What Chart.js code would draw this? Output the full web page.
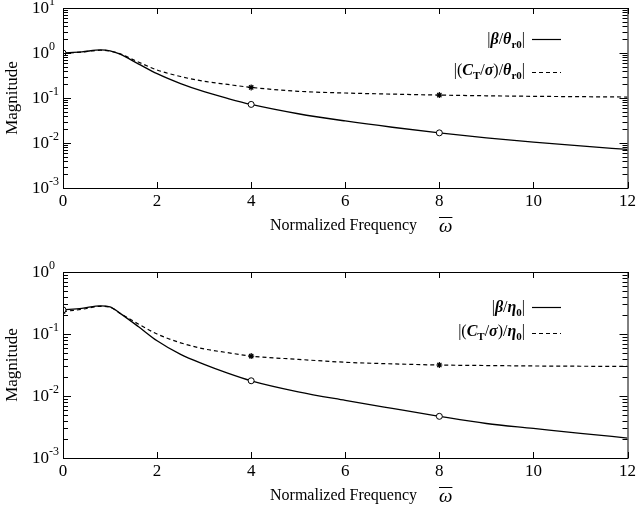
<!DOCTYPE html>
<html>
<head>
<meta charset="utf-8">
<script src="https://cdn.jsdelivr.net/npm/chart.js@4.4.1/dist/chart.umd.min.js"></script>
<style>
  body { margin: 0; background: #fff; }
  canvas { position: absolute; left: 0; }
</style>
</head>
<body>
<canvas id="chartTop" width="639" height="256" style="top:0"></canvas>
<canvas id="chartBottom" width="639" height="255" style="top:256px"></canvas>
<script>
// normalized frequency samples (x axis)
const freq = [0, 0.4, 0.8, 1.0, 1.2, 1.6, 2, 2.5, 3, 3.5, 4, 5, 6, 7, 8, 9, 10, 11, 12];

// top panel: |beta/theta_r0| and |(C_T/sigma)/theta_r0|
const betaTheta = [1.0, 1.06, 1.17, 1.12, 0.955, 0.575, 0.347, 0.209, 0.138, 0.098, 0.072, 0.0447, 0.0309, 0.0224, 0.0168, 0.013, 0.0105, 0.0086, 0.0072];
const ctTheta = [0.98, 1.05, 1.15, 1.1, 0.97, 0.63, 0.42, 0.3, 0.235, 0.2, 0.172, 0.141, 0.129, 0.122, 0.116, 0.112, 0.109, 0.107, 0.105];

// bottom panel: |beta/eta_0| and |(C_T/sigma)/eta_0|
const betaEta = [0.245, 0.26, 0.285, 0.275, 0.219, 0.132, 0.0776, 0.0468, 0.0324, 0.0234, 0.0176, 0.0117, 0.0085, 0.0063, 0.0047, 0.0036, 0.003, 0.0025, 0.0021];
const ctEta = [0.23, 0.25, 0.28, 0.27, 0.219, 0.145, 0.1, 0.072, 0.0575, 0.05, 0.044, 0.039, 0.035, 0.033, 0.0316, 0.031, 0.0305, 0.0302, 0.03];

// frequencies that carry a marker
const markFreqs = [0, 4, 8];

// legend labels, split into styled pieces (i = italic, b = bold, sub = subscript)
const legendTop = [
  [{ t: '|' }, { t: 'β', i: 1, b: 1 }, { t: '/' }, { t: 'θ', i: 1, b: 1 }, { t: 'r0', b: 1, sub: 1 }, { t: '|' }],
  [{ t: '|(' }, { t: 'C', i: 1, b: 1 }, { t: 'T', b: 1, sub: 1 }, { t: '/' }, { t: 'σ', i: 1, b: 1 }, { t: ')/' }, { t: 'θ', i: 1, b: 1 }, { t: 'r0', b: 1, sub: 1 }, { t: '|' }]
];
const legendBottom = [
  [{ t: '|' }, { t: 'β', i: 1, b: 1 }, { t: '/' }, { t: 'η', i: 1, b: 1 }, { t: '0', b: 1, sub: 1 }, { t: '|' }],
  [{ t: '|(' }, { t: 'C', i: 1, b: 1 }, { t: 'T', b: 1, sub: 1 }, { t: '/' }, { t: 'σ', i: 1, b: 1 }, { t: ')/' }, { t: 'η', i: 1, b: 1 }, { t: '0', b: 1, sub: 1 }, { t: '|' }]
];

const SERIF = '"Liberation Serif", "Times New Roman", serif';

function drawRich(ctx, parts, xEnd, yMid, size) {
  const fontOf = p => (p.i ? 'italic ' : '') + (p.b ? 'bold ' : '') + (p.sub ? Math.round(size * 0.7) : size) + 'px ' + SERIF;
  const widths = parts.map(p => { ctx.font = fontOf(p); return ctx.measureText(p.t).width; });
  let x = xEnd - widths.reduce((a, b) => a + b, 0);
  ctx.textAlign = 'left';
  ctx.textBaseline = 'alphabetic';
  parts.forEach((p, k) => {
    ctx.font = fontOf(p);
    ctx.fillText(p.t, x, yMid + size * 0.33 + (p.sub ? size * 0.22 : 0));
    x += widths[k];
  });
}

// frame, inward ticks, decade labels, axis titles and legend
const paperPlugin = {
  id: 'paper',
  afterDraw(chart, args, opts) {
    const { ctx, chartArea: a, scales: { x, y } } = chart;
    ctx.save();
    ctx.strokeStyle = '#000';
    ctx.fillStyle = '#000';
    ctx.lineWidth = 1;
    ctx.strokeRect(a.left + 0.5, a.top + 0.5, a.right - a.left, a.bottom - a.top);

    // log ticks on left and right edges
    const minExp = Math.round(Math.log10(y.min));
    const maxExp = Math.round(Math.log10(y.max));
    ctx.beginPath();
    for (let e = minExp; e <= maxExp; e++) {
      for (let d = 1; d <= 9; d++) {
        if (e === maxExp && d > 1) break;
        const py = Math.round(y.getPixelForValue(d * Math.pow(10, e))) + 0.5;
        const len = d === 1 ? 8 : 5;
        ctx.moveTo(a.left, py); ctx.lineTo(a.left + len, py);
        ctx.moveTo(a.right, py); ctx.lineTo(a.right - len, py);
      }
    }
    // x ticks on top and bottom edges
    x.ticks.forEach(t => {
      const px = Math.round(x.getPixelForValue(t.value)) + 0.5;
      ctx.moveTo(px, a.top); ctx.lineTo(px, a.top + 6);
      ctx.moveTo(px, a.bottom); ctx.lineTo(px, a.bottom - 6);
    });
    ctx.stroke();

    // decade labels 10^n
    ctx.textAlign = 'left';
    ctx.textBaseline = 'middle';
    for (let e = minExp; e <= maxExp; e++) {
      const py = y.getPixelForValue(Math.pow(10, e));
      ctx.font = '17px ' + SERIF;
      ctx.fillText('10', 32, py + 1);
      const w = ctx.measureText('10').width;
      ctx.font = '12px ' + SERIF;
      ctx.fillText(String(e), 32 + w, py - 6);
    }

    // y title
    ctx.save();
    ctx.translate(13, (a.top + a.bottom) / 2);
    ctx.rotate(-Math.PI / 2);
    ctx.textAlign = 'center';
    ctx.font = '17px ' + SERIF;
    ctx.fillText('Magnitude', 0, 0);
    ctx.restore();

    // x title with omega bar
    const ty = a.bottom + 38;
    ctx.textAlign = 'left';
    ctx.font = '16px ' + SERIF;
    ctx.fillText('Normalized Frequency', 270, ty);
    ctx.font = 'italic 19px ' + SERIF;
    const ow = ctx.measureText('ω').width;
    ctx.fillText('ω', 439, ty + 1);
    ctx.beginPath();
    ctx.moveTo(439, ty - 8.5); ctx.lineTo(439 + ow, ty - 8.5);
    ctx.stroke();

    // legend
    opts.labels.forEach((parts, k) => {
      const ly = opts.rows[k];
      drawRich(ctx, parts, 525, ly, 16);
      ctx.beginPath();
      ctx.lineWidth = 1.2;
      ctx.setLineDash(k === 0 ? [] : [4, 3]);
      const sy = (k === 0 ? ly : ly + 2) + 0.5;
      ctx.moveTo(532, sy); ctx.lineTo(561, sy);
      ctx.stroke();
      ctx.setLineDash([]);
    });
    ctx.restore();
  }
};

function series(ys) {
  return freq.map((f, i) => ({ x: f, y: ys[i] }));
}

function markRadius(ctx) {
  return markFreqs.includes(freq[ctx.dataIndex]) ? 3 : 0;
}

function makeChart(id, solid, dashed, yMin, yMax, padTop, xHeight, labels, rows) {
  return new Chart(document.getElementById(id), {
    type: 'line',
    data: {
      datasets: [
        {
          data: series(solid),
          borderColor: '#000', borderWidth: 1.3,
          cubicInterpolationMode: 'monotone',
          pointStyle: 'circle', pointRadius: markRadius,
          pointBackgroundColor: '#fff', pointBorderColor: '#000', pointBorderWidth: 1
        },
        {
          data: series(dashed),
          borderColor: '#000', borderWidth: 1.2, borderDash: [4, 3],
          cubicInterpolationMode: 'monotone',
          pointStyle: 'star', pointRadius: markRadius,
          pointBorderColor: '#000', pointBorderWidth: 1.2
        }
      ]
    },
    options: {
      responsive: false,
      animation: false,
      devicePixelRatio: 1,
      layout: { padding: { top: padTop, right: 11, left: 0, bottom: 0 } },
      plugins: {
        legend: { display: false },
        tooltip: { enabled: false },
        paper: { labels: labels, rows: rows }
      },
      scales: {
        x: {
          type: 'linear', min: 0, max: 12,
          afterFit: s => { s.height = xHeight; },
          grid: { display: false, drawTicks: false },
          border: { display: false },
          ticks: { stepSize: 2, padding: 3, maxRotation: 0, color: '#000', font: { family: SERIF, size: 17 } }
        },
        y: {
          type: 'logarithmic', min: yMin, max: yMax,
          afterFit: s => { s.width = 63; },
          grid: { display: false, drawTicks: false },
          border: { display: false },
          ticks: { display: false }
        }
      }
    },
    plugins: [paperPlugin]
  });
}

makeChart('chartTop', betaTheta, ctTheta, 1e-3, 10, 8, 68, legendTop, [39, 70]);
makeChart('chartBottom', betaEta, ctEta, 1e-3, 1, 16, 53, legendBottom, [51, 75]);
</script>
</body>
</html>
